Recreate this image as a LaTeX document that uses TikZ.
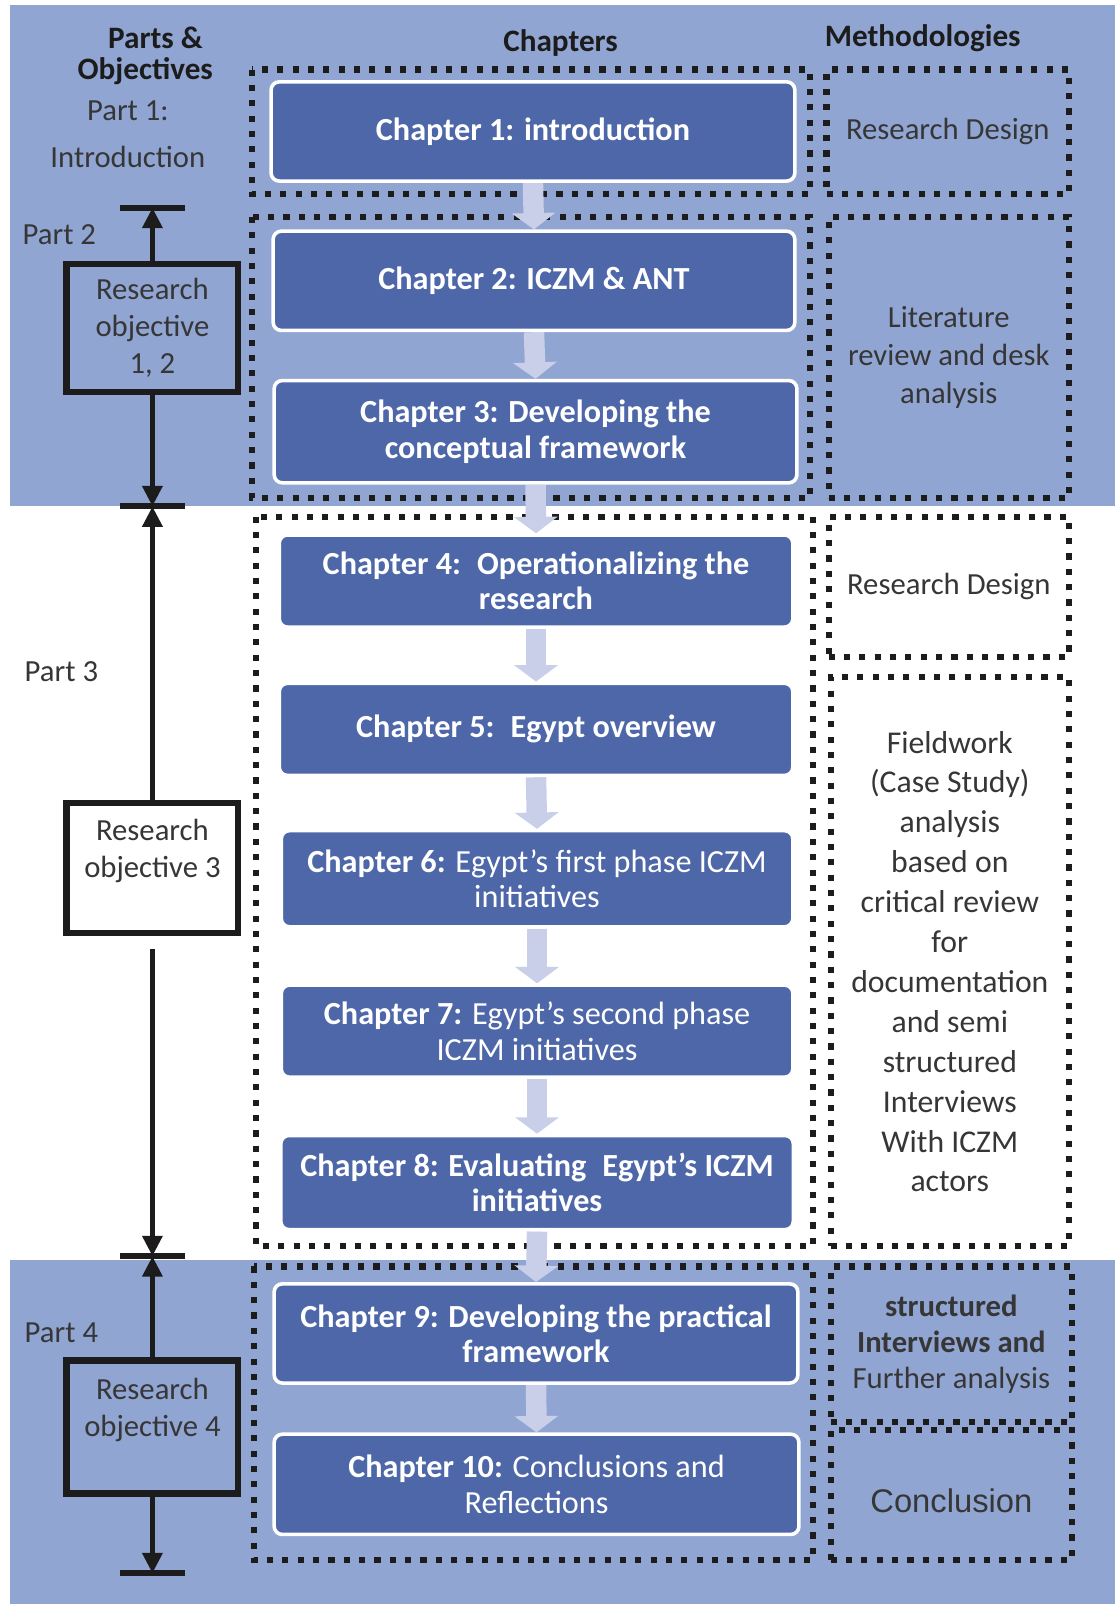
\documentclass[tikz,border=0pt]{standalone}
\usepackage{fontspec}
\setmainfont{Carlito}
\newfontfamily\arialfont{Liberation Sans}
\usetikzlibrary{arrows.meta,calc}

\definecolor{panel}{HTML}{91A5D3}
\definecolor{chapfill}{HTML}{4D67A8}
\definecolor{flowarrow}{HTML}{C9CFE8}
\definecolor{inkdark}{HTML}{1C1C1C}
\definecolor{methink}{HTML}{363636}

\pgfdeclarelayer{backdrop}
\pgfdeclarelayer{flowlayer}
\pgfsetlayers{backdrop,flowlayer,main}

\begin{document}
\begin{tikzpicture}[x=1pt,y=-1pt,
  chapter/.style={draw=white, line width=3.5pt, fill=chapfill, rounded corners=8pt,
    text=white, align=center, inner sep=0pt, font=\fontsize{31.5}{34.5}\selectfont},
  group/.style={draw=inkdark, line width=6pt, dash pattern=on 6pt off 9pt},
  method/.style={group, align=center, text=methink, inner sep=0pt,
    font=\fontsize{30}{37.5}\selectfont},
  objbox/.style={draw=inkdark, line width=6pt, minimum width=168pt, inner sep=0pt},
  objtext/.style={align=center, text=methink, inner sep=0pt, font=\fontsize{30}{36}\selectfont},
  timeline/.style={draw=inkdark, line width=5pt, -{Triangle[length=20pt,width=19pt]}},
  bar/.style={draw=inkdark, line width=6pt},
  flow/.style={draw=flowarrow, line width=20pt, -{Triangle[length=16pt,width=42pt]}},
  head/.style={text=inkdark, font=\fontsize{30.5}{34}\selectfont\bfseries},
  part/.style={text=methink, font=\fontsize{30}{34}\selectfont}
]
\useasboundingbox (0,0) rectangle (1093,1568);

% background panels and the dotted chapter groups
\begin{pgfonlayer}{backdrop}
  \fill[white] (0,0) rectangle (1093,1568);
  \fill[panel] (10,5) rectangle (1090,495);
  \fill[panel] (10,1232) rectangle (1090,1568);
  \draw[group] (246,68) rectangle (792,190);
  \draw[group] (246,212) rectangle (792,487);
  \draw[group] (250,505) rectangle (795,1218);
  \draw[group] (248,1238) rectangle (795,1525);
\end{pgfonlayer}

% column headings
\node[head] (hparts) at (152,37) {Parts \&};
\node[head] (hobj) at (142,70) {Objectives};
\node[head] (hchap) at (548,42) {Chapters};
\node[head] (hmeth) at (902,37) {Methodologies};

% part labels
\node[part] (p1a) at (125,108) {Part 1:};
\node[part] (p1b) at (125,153) {Introduction};
\node[part] (p2) at (58,229) {Part 2};
\node[part] (p3) at (60,657) {Part 3};
\node[part] (p4) at (60,1303) {Part 4};

% chapters
\node[chapter, minimum width=512pt, minimum height=97pt] (c1) at (521,128.5)
  {\textbf{Chapter 1: introduction}};
\node[chapter, minimum width=510pt, minimum height=97pt] (c2) at (522,274.5)
  {\textbf{Chapter 2: ICZM \& ANT}};
\node[chapter, minimum width=511pt, minimum height=100pt] (c3) at (523.5,422)
  {\textbf{Chapter 3: Developing the}\\\textbf{conceptual framework}};
\node[chapter, minimum width=502pt, minimum height=90pt] (c4) at (524,568)
  {\textbf{Chapter 4:\enspace Operationalizing the}\\\textbf{research}};
\node[chapter, minimum width=502pt, minimum height=90pt] (c5) at (524,713)
  {\textbf{Chapter 5:\enspace Egypt overview}};
\node[chapter, minimum width=500pt, minimum height=94pt] (c6) at (525,859)
  {\textbf{Chapter 6:} Egypt’s first phase ICZM\\initiatives};
\node[chapter, minimum width=500pt, minimum height=90pt] (c7) at (525,1008)
  {\textbf{Chapter 7:} Egypt’s second phase\\ICZM initiatives};
\node[chapter, minimum width=501pt, minimum height=92pt] (c8) at (525,1156)
  {\textbf{Chapter 8: Evaluating\enspace Egypt’s ICZM}\\\textbf{initiatives}};
\node[chapter, minimum width=512pt, minimum height=97pt] (c9) at (524,1303.5)
  {\textbf{Chapter 9: Developing the practical}\\\textbf{framework}};
\node[chapter, minimum width=513pt, minimum height=98pt] (c10) at (524.5,1451)
  {\textbf{Chapter 10:} Conclusions and\\Reflections};

% flow between chapters
\begin{pgfonlayer}{flowlayer}
  \foreach \a/\b in {c1/c2,c2/c3,c3/c4,c4/c5,c5/c6,c6/c7,c7/c8,c8/c9,c9/c10}
    \draw[flow] (\a.south) -- (\b.north);
\end{pgfonlayer}

% methodologies
\node[method, minimum width=237pt, minimum height=122pt] (m1) at (926.5,129) {Research Design};
\node[method, minimum width=235pt, minimum height=275pt] (m2) at (927.5,349.5)
  {Literature\\review and desk\\analysis};
\node[method, minimum width=235pt, minimum height=137pt] (m3) at (927.5,573.5) {Research Design};
\node[method, minimum width=233pt, minimum height=556pt, font=\fontsize{31}{39}\selectfont] (m4) at (928.5,940)
  {Fieldwork\\(Case Study)\\analysis\\based on\\critical review\\for\\documentation\\and semi\\structured\\Interviews\\With ICZM\\actors};
\node[method, minimum width=236pt, minimum height=152pt, font=\fontsize{30}{35}\selectfont] (m5) at (930,1314)
  {\textbf{structured}\\\textbf{Interviews and}\\Further analysis};
\node[method, minimum width=236pt, minimum height=127pt, text height=35pt, text depth=0pt,
  font=\arialfont\fontsize{32}{35}\selectfont] (m6) at (930,1461.5)
  {Conclusion};

% research objectives timeline
\coordinate (bar1) at (149,203);
\coordinate (bar2) at (149,495);
\coordinate (bar3) at (149,1228);
\coordinate (bar4) at (149,1538);

\node[objbox, objtext, minimum height=125pt] (ro12) at (149,320.5) {Research\\objective\\1, 2};
\node[objbox, fill=white, minimum height=127pt] (ro3) at (149,848.5) {};
\node[objtext, anchor=north] (ro3txt) at ($(ro3.north)+(0,19)$) {Research\\objective 3};
\node[objbox, minimum height=130pt] (ro4) at (149,1395) {};
\node[objtext, anchor=north] (ro4txt) at ($(ro4.north)+(0,20)$) {Research\\objective 4};

\draw[timeline] (ro12.north) -- (bar1);
\draw[timeline] (ro12.south) -- (bar2);
\draw[timeline] (ro3.north) -- (bar2);
\draw[timeline] ($(ro3.south)+(0,13)$) -- (bar3);
\draw[timeline] (ro4.north) -- (bar3);
\draw[timeline] (ro4.south) -- (bar4);

\foreach \b in {bar1,bar2,bar3,bar4}
  \draw[bar] ($(\b)+(-32,0)$) -- ($(\b)+(32,0)$);

\end{tikzpicture}
\end{document}
